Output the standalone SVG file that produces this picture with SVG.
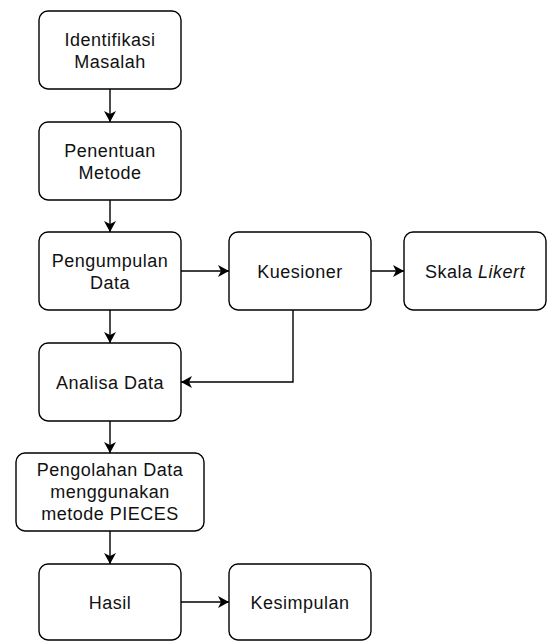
<svg xmlns="http://www.w3.org/2000/svg" width="548" height="641" viewBox="0 0 548 641">
<style>
.box{fill:#fff;stroke:#000;stroke-width:1.4}
.t{font-family:"Liberation Sans",Arial,sans-serif;font-size:18px;fill:#111;text-anchor:middle;letter-spacing:0.5px}
.c{fill:none;stroke:#000;stroke-width:1.4}
</style>
<defs>
<marker id="ah" viewBox="0 0 11 12" refX="11" refY="6" markerWidth="11" markerHeight="12" markerUnits="userSpaceOnUse" orient="auto">
<path d="M0,0 L11,6 L0,12 L3,6 z" fill="#000"/>
</marker>
</defs>
<rect width="548" height="641" fill="#fff"/>
<g id="connectors">
<path class="c" d="M110,89 V122" marker-end="url(#ah)"/>
<path class="c" d="M110,200 V232" marker-end="url(#ah)"/>
<path class="c" d="M110,310 V343" marker-end="url(#ah)"/>
<path class="c" d="M181,271 H229" marker-end="url(#ah)"/>
<path class="c" d="M371,271 H404" marker-end="url(#ah)"/>
<path class="c" d="M293,310 V382 H181" marker-end="url(#ah)"/>
<path class="c" d="M110,421 V453" marker-end="url(#ah)"/>
<path class="c" d="M110,531 V564" marker-end="url(#ah)"/>
<path class="c" d="M181,602 H229" marker-end="url(#ah)"/>
</g>
<g id="identifikasi">
<rect class="box" x="39" y="11" width="142" height="78" rx="9"/>
<text class="t" x="110" y="45.5">Identifikasi</text>
<text class="t" x="110" y="67.5">Masalah</text>
</g>
<g id="penentuan">
<rect class="box" x="39" y="122" width="142" height="78" rx="9"/>
<text class="t" x="110" y="156.5">Penentuan</text>
<text class="t" x="110" y="178.5">Metode</text>
</g>
<g id="pengumpulan">
<rect class="box" x="39" y="232" width="142" height="78" rx="9"/>
<text class="t" x="110" y="266.5">Pengumpulan</text>
<text class="t" x="110" y="288.5">Data</text>
</g>
<g id="kuesioner">
<rect class="box" x="229" y="232" width="142" height="78" rx="9"/>
<text class="t" x="300" y="277.5">Kuesioner</text>
</g>
<g id="skala">
<rect class="box" x="404" y="232" width="142" height="78" rx="9"/>
<text class="t" x="475" y="277.5">Skala <tspan font-style="italic">Likert</tspan></text>
</g>
<g id="analisa">
<rect class="box" x="39" y="343" width="142" height="78" rx="9"/>
<text class="t" x="110" y="388.5">Analisa Data</text>
</g>
<g id="pengolahan">
<rect class="box" x="16" y="453" width="188" height="78" rx="9"/>
<text class="t" x="110" y="476">Pengolahan Data</text>
<text class="t" x="110" y="498">menggunakan</text>
<text class="t" x="110" y="520">metode PIECES</text>
</g>
<g id="hasil">
<rect class="box" x="39" y="564" width="142" height="76" rx="9"/>
<text class="t" x="110" y="608.5">Hasil</text>
</g>
<g id="kesimpulan">
<rect class="box" x="229" y="564" width="142" height="76" rx="9"/>
<text class="t" x="300" y="608.5">Kesimpulan</text>
</g>
</svg>
